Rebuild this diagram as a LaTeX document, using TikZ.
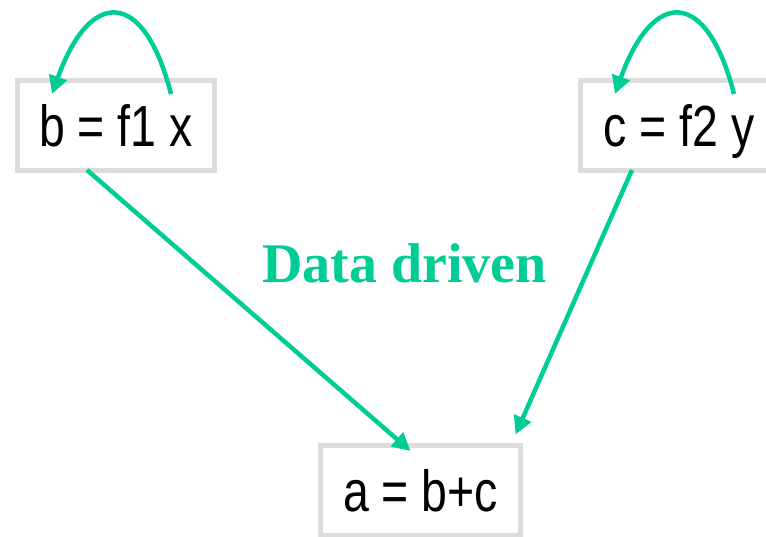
\documentclass[tikz,border=0pt]{standalone}
\usepackage{fontspec}
\newfontfamily\narrowfont[FakeStretch=0.8]{Liberation Sans}
\newfontfamily\titlefont{Liberation Serif}
\usetikzlibrary{arrows.meta,calc}
\definecolor{flowgreen}{RGB}{0,204,150}
\definecolor{boxgray}{RGB}{220,220,220}
\tikzset{
  codebox/.style={draw=boxgray, line width=5pt, minimum width=197pt, minimum height=90pt,
    inner sep=0pt, text height=42pt, text depth=0pt, font=\narrowfont\fontsize{58}{60}\selectfont},
  flow/.style={draw=flowgreen, line width=4.5pt, -{Triangle[length=18pt,width=18pt]}},
}
\begin{document}
\begin{tikzpicture}[x=1pt,y=-1pt]
\useasboundingbox (0,0) rectangle (766,537);
\node[codebox] (b) at (116,125.5) {b = f1 x};
\node[codebox] (c) at (679,125.5) {c = f2 y};
\node[codebox, minimum width=200pt] (a) at (420.5,490.5) {a = b+c};
\node[text=flowgreen, font=\titlefont\bfseries\fontsize{56}{60}\selectfont, anchor=base] (t) at (404.5,283) {Data driven};
\draw[flow] ($(b.north)+(55,16)$) .. controls ($(b.north)+(28,-90)$) and ($(b.north)+(-26,-90)$) .. ($(b.north)+(-64,16)$);
\draw[flow] ($(c.north)+(55,16)$) .. controls ($(c.north)+(28,-90)$) and ($(c.north)+(-26,-90)$) .. ($(c.north)+(-64,16)$);
\draw[flow] ($(b.south)+(-29,-3)$) -- ($(a.north)+(-10,8)$);
\draw[flow] ($(c.south)+(-47,-3)$) -- ($(a.north east)+(-7.5,-8.5)$);
\end{tikzpicture}
\end{document}
